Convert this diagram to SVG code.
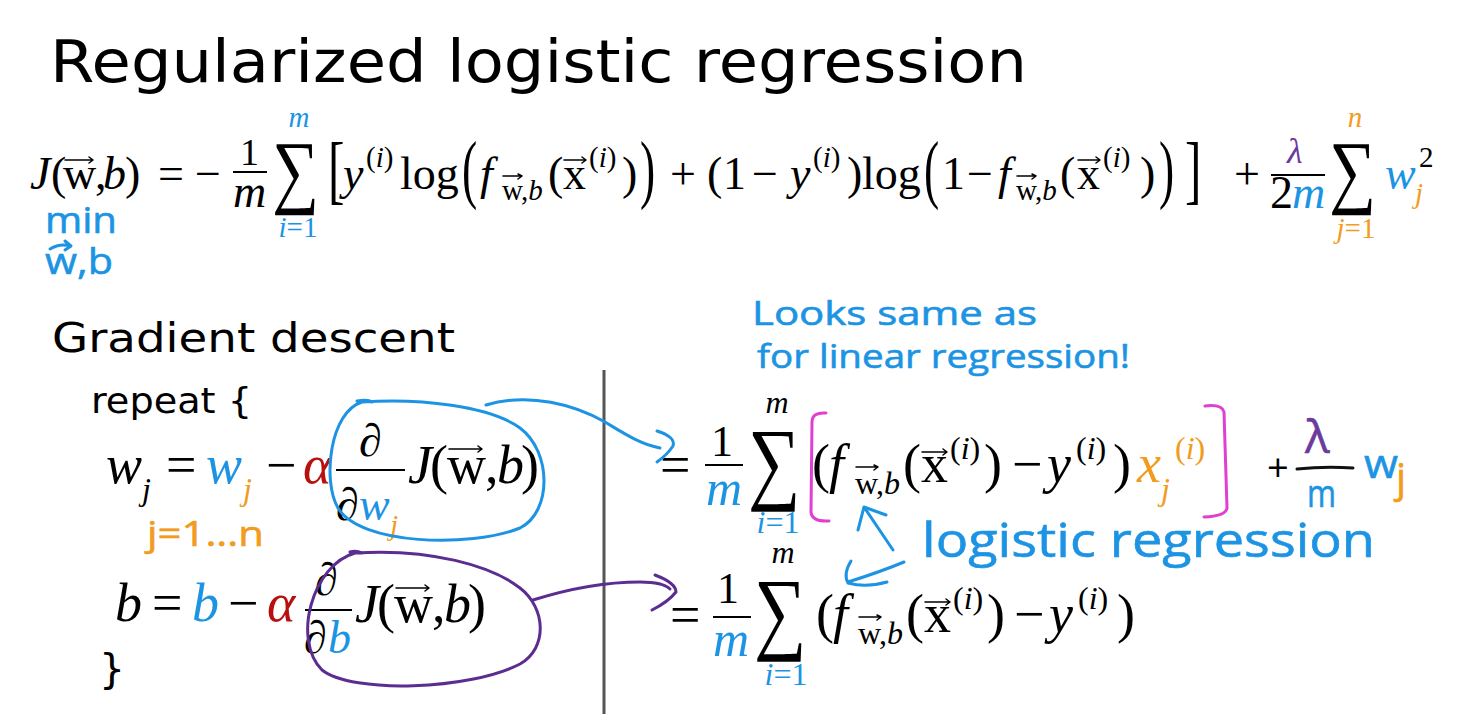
<svg xmlns="http://www.w3.org/2000/svg" width="1478" height="714" viewBox="0 0 1478 714">
<style>
text{fill:#000}
.s{font-family:"DejaVu Sans","Liberation Sans",sans-serif}
.m{font-family:"Liberation Serif","DejaVu Serif",serif;font-size:46px}
.M{font-family:"Liberation Serif","DejaVu Serif",serif;font-size:54px}
.i{font-style:italic}
.sm{font-size:29px}
.sM{font-size:32px}
.bl{fill:#1c94e3}
.or{fill:#f29b1d}
.pu{fill:#6a3a9c}
.rd{fill:#b80f0f}
.hw{font-family:"Open Sans","Lato",sans-serif;font-weight:normal;stroke-width:0.6;paint-order:stroke}
.hw.bl{stroke:#1c94e3}
.hw.or{stroke:#f29b1d}
.hw.pu{stroke:#6a3a9c}
.vec{fill:none;stroke:#000;stroke-width:1.5;stroke-linecap:round;stroke-linejoin:round}
.bar{stroke:#000;stroke-width:2.2}
.ink{fill:none;stroke-width:3;stroke-linecap:round;stroke-linejoin:round}
.ib{stroke:#1c94e3}
.ip{stroke:#5c2d91}
.im{stroke:#e03fd2}
.ik{stroke:#111}
</style>
<rect width="1478" height="714" fill="#fff"/>

<g id="title">
<text class="s" x="50" y="82" style="font-size:58px" textLength="977" lengthAdjust="spacingAndGlyphs">Regularized logistic regression</text>
</g>

<g id="cost-function">
<text class="m i" x="30" y="189">J</text>
<text class="m" x="51" y="189">(</text>
<text class="m" x="63" y="189">w</text>
<path class="vec" d="M65 160h28M89 157l4 3l-4 3"/>
<text class="m" x="95" y="189">,</text>
<text class="m i" x="103" y="189">b</text>
<text class="m" x="125" y="189">)</text>
<text class="m" x="158" y="189">=</text>
<text class="m" x="195" y="189">−</text>
<text class="m" x="240" y="165" style="font-size:38px">1</text>
<path class="bar" d="M233 172H267"/>
<text class="m i" x="233" y="207">m</text>
<text class="m" transform="translate(272,198) scale(0.8,1)" style="font-size:82px">∑</text>
<text class="m i bl sm" x="299" y="127" text-anchor="middle">m</text>
<text class="m bl sm" x="298" y="237" text-anchor="middle"><tspan class="i">i</tspan>=1</text>
<text class="m" transform="translate(328,195) scale(0.65,1)" style="font-size:76px">[</text>
<text class="m i" x="343" y="189">y</text>
<text class="m sm" x="366" y="167">(<tspan class="i">i</tspan>)</text>
<text class="m" x="400" y="189">log</text>
<text class="m" transform="translate(462,194) scale(0.6,1)" style="font-size:76px">(</text>
<text class="m i" x="480" y="189">f</text>
<text class="m sm" x="502" y="200">w,<tspan class="i">b</tspan></text>
<path class="vec" d="M503 176h19M518 174l4 2l-4 3"/>
<text class="m" x="548" y="189">(</text>
<text class="m" x="563" y="189">x</text>
<path class="vec" d="M564 160h22M582 157l4 3l-4 3"/>
<text class="m sm" x="589" y="167">(<tspan class="i">i</tspan>)</text>
<text class="m" x="622" y="189">)</text>
<text class="m" transform="translate(640,194) scale(0.6,1)" style="font-size:76px">)</text>
<text class="m" x="670" y="189">+</text>
<text class="m" x="707" y="189">(</text>
<text class="m" x="723" y="189">1</text>
<text class="m" x="752" y="189">−</text>
<text class="m i" x="790" y="189">y</text>
<text class="m sm" x="813" y="167">(<tspan class="i">i</tspan>)</text>
<text class="m" x="847" y="189">)</text>
<text class="m" x="862" y="189">log</text>
<text class="m" transform="translate(924,194) scale(0.6,1)" style="font-size:76px">(</text>
<text class="m" x="942" y="189">1</text>
<text class="m" x="967" y="189">−</text>
<text class="m i" x="998" y="189">f</text>
<text class="m sm" x="1016" y="200">w,<tspan class="i">b</tspan></text>
<path class="vec" d="M1017 176h19M1032 174l4 2l-4 3"/>
<text class="m" x="1060" y="189">(</text>
<text class="m" x="1077" y="189">x</text>
<path class="vec" d="M1078 160h22M1096 157l4 3l-4 3"/>
<text class="m sm" x="1103" y="167">(<tspan class="i">i</tspan>)</text>
<text class="m" x="1140" y="189">)</text>
<text class="m" transform="translate(1159,194) scale(0.6,1)" style="font-size:76px">)</text>
<text class="m" transform="translate(1185,195) scale(0.65,1)" style="font-size:76px">]</text>
<text class="m" x="1234" y="189">+</text>
<text class="m i pu" x="1287" y="163" style="font-size:36px">λ</text>
<path class="bar" d="M1271 175H1325"/>
<text class="m" x="1270" y="208">2</text>
<text class="m i bl" x="1292" y="208">m</text>
<text class="m" transform="translate(1329,198) scale(0.8,1)" style="font-size:82px">∑</text>
<text class="m i or sm" x="1355" y="127" text-anchor="middle">n</text>
<text class="m or sm" x="1356" y="238" text-anchor="middle"><tspan class="i">j</tspan>=1</text>
<text class="m i bl" x="1385" y="189">w</text>
<text class="m sm" x="1419" y="167">2</text>
<text class="m i or sm" x="1415" y="203">j</text>
<text class="hw bl" x="45" y="233" style="font-size:36px" textLength="72" lengthAdjust="spacingAndGlyphs">min</text>
<text class="hw bl" x="45" y="274" style="font-size:36px" textLength="68" lengthAdjust="spacingAndGlyphs">w,b</text>
<path class="ink ib" d="M50 249Q60 243 70 246M65 241l6 5l-6 4"/>
</g>

<g id="gradient-descent">
<text class="s" x="52" y="352" style="font-size:41px" textLength="403" lengthAdjust="spacingAndGlyphs">Gradient descent</text>
<text class="s" x="91" y="413" style="font-size:36px" textLength="161" lengthAdjust="spacingAndGlyphs">repeat {</text>
<text class="s" x="99" y="683" style="font-size:41px">}</text>
</g>

<g id="update-w">
<text class="M i" x="106" y="483">w</text>
<text class="M i sM" x="142" y="500">j</text>
<text class="M" x="166" y="483">=</text>
<text class="M i bl" x="206" y="483">w</text>
<text class="M i or sM" x="243" y="500">j</text>
<text class="M" x="266" y="483">−</text>
<text class="M i rd" x="303" y="483">α</text>
<text class="M" x="359" y="456" style="font-size:46px">∂</text>
<path class="bar" d="M336 470H405"/>
<text class="M" x="336" y="520" style="font-size:46px">∂</text>
<text class="M i bl" x="359" y="520" style="font-size:46px">w</text>
<text class="M i or" x="390" y="535" style="font-size:29px">j</text>
<text class="M i" x="408" y="483">J</text>
<text class="M" x="430" y="483">(</text>
<text class="M" x="447" y="483">w</text>
<path class="vec" d="M449 449h33M478 446l4 3l-4 3"/>
<text class="M" x="485" y="483">,</text>
<text class="M i" x="497" y="483">b</text>
<text class="M" x="521" y="483">)</text>
<text class="hw or" x="147" y="546" style="font-size:34px" textLength="117" lengthAdjust="spacingAndGlyphs">j=1...n</text>
</g>

<g id="update-b">
<text class="M i" x="115" y="621">b</text>
<text class="M" x="152" y="621">=</text>
<text class="M i bl" x="192" y="621">b</text>
<text class="M" x="228" y="621">−</text>
<text class="M i rd" x="267" y="621">α</text>
<text class="M" x="315" y="595" style="font-size:46px">∂</text>
<path class="bar" d="M305 610H352"/>
<text class="M" x="304" y="653" style="font-size:46px">∂</text>
<text class="M i bl" x="328" y="653" style="font-size:46px">b</text>
<text class="M i" x="355" y="622">J</text>
<text class="M" x="377" y="622">(</text>
<text class="M" x="394" y="622">w</text>
<path class="vec" d="M396 588h33M425 585l4 3l-4 3"/>
<text class="M" x="432" y="622">,</text>
<text class="M i" x="444" y="622">b</text>
<text class="M" x="468" y="622">)</text>
</g>

<g id="divider">
<path d="M604 370V714" stroke="#555" stroke-width="3"/>
</g>

<g id="note-linear">
<text class="hw bl" x="752" y="325" style="font-size:33px" textLength="285" lengthAdjust="spacingAndGlyphs">Looks same as</text>
<text class="hw bl" x="757" y="368" style="font-size:33px" textLength="373" lengthAdjust="spacingAndGlyphs">for linear regression!</text>
</g>

<g id="deriv-w">
<text class="M" x="660" y="483">=</text>
<text class="M" x="711" y="456" style="font-size:44px">1</text>
<path class="bar" d="M705 465H743"/>
<text class="M i bl" x="706" y="505" style="font-size:50px">m</text>
<text class="M" transform="translate(748,492) scale(0.8,1)" style="font-size:92px">∑</text>
<text class="M i sM" x="777" y="413" text-anchor="middle">m</text>
<text class="M bl sM" x="778" y="533" text-anchor="middle"><tspan class="i">i</tspan>=1</text>
<text class="M" x="812" y="482">(</text>
<text class="M i" x="829" y="482">f</text>
<text class="M sM" x="855" y="494">w,<tspan class="i">b</tspan></text>
<path class="vec" d="M856 467h22M874 465l4 2l-4 3"/>
<text class="M" x="903" y="482">(</text>
<text class="M" x="921" y="482">x</text>
<path class="vec" d="M922 452h25M943 449l4 3l-4 3"/>
<text class="M sM" x="950" y="459">(<tspan class="i">i</tspan>)</text>
<text class="M" x="984" y="482">)</text>
<text class="M" x="1012" y="482">−</text>
<text class="M i" x="1047" y="482">y</text>
<text class="M sM" x="1076" y="459">(<tspan class="i">i</tspan>)</text>
<text class="M" x="1113" y="482">)</text>
<text class="M i or" x="1137" y="482">x</text>
<text class="M i or sM" x="1161" y="500">j</text>
<text class="M or sM" x="1175" y="459">(<tspan class="i">i</tspan>)</text>
<path class="ink im" d="M826 413Q812 412 812 422L811 512Q812 522 829 521"/>
<path class="ink im" d="M1205 406Q1222 404 1224 412L1227 508Q1226 516 1204 517"/>
<text class="hw" x="1267" y="481" style="font-size:38px">+</text>
<text class="hw pu" x="1305" y="453" style="font-size:46px">λ</text>
<path class="ink ik" d="M1297 469Q1325 466 1353 468"/>
<text class="hw bl" x="1307" y="507" style="font-size:38px" textLength="29" lengthAdjust="spacingAndGlyphs">m</text>
<text class="hw bl" x="1364" y="478" style="font-size:40px" textLength="34" lengthAdjust="spacingAndGlyphs">w</text>
<text class="hw or" x="1396" y="492" style="font-size:40px">j</text>
</g>

<g id="deriv-b">
<text class="M" x="670" y="633">=</text>
<text class="M" x="717" y="603" style="font-size:44px">1</text>
<path class="bar" d="M713 617H751"/>
<text class="M i bl" x="713" y="656" style="font-size:50px">m</text>
<text class="M" transform="translate(754,642) scale(0.8,1)" style="font-size:92px">∑</text>
<text class="M i sM" x="783" y="563" text-anchor="middle">m</text>
<text class="M bl sM" x="786" y="685" text-anchor="middle"><tspan class="i">i</tspan>=1</text>
<text class="M" x="816" y="632">(</text>
<text class="M i" x="833" y="632">f</text>
<text class="M sM" x="858" y="644">w,<tspan class="i">b</tspan></text>
<path class="vec" d="M859 617h22M877 615l4 2l-4 3"/>
<text class="M" x="906" y="632">(</text>
<text class="M" x="924" y="632">x</text>
<path class="vec" d="M925 602h25M946 599l4 3l-4 3"/>
<text class="M sM" x="953" y="609">(<tspan class="i">i</tspan>)</text>
<text class="M" x="987" y="632">)</text>
<text class="M" x="1014" y="632">−</text>
<text class="M i" x="1049" y="632">y</text>
<text class="M sM" x="1078" y="609">(<tspan class="i">i</tspan>)</text>
<text class="M" x="1117" y="632">)</text>
</g>

<g id="note-logistic">
<text class="hw bl" x="922" y="557" style="font-size:47px" textLength="453" lengthAdjust="spacingAndGlyphs">logistic regression</text>
</g>

<g id="connectors">
<path class="ink ib" d="M357 401Q368 399 372 402M362 402C330 412 322 480 338 508C360 545 470 548 520 528C552 512 552 452 520 428C490 406 420 398 362 402"/>
<path class="ink ib" d="M486 405C530 392 575 405 605 422C625 434 640 444 660 448"/>
<path class="ink ib" d="M657 431Q676 437 673 446Q667 455 657 462"/>
<path class="ink ip" d="M350 552Q356 550 362 553M355 553C312 565 292 640 322 670C352 694 470 690 520 664C548 648 546 608 520 588C492 566 430 548 355 553"/>
<path class="ink ip" d="M533 600C565 590 600 582 640 582C655 582 666 585 670 589"/>
<path class="ink ip" d="M655 575Q676 583 676 592Q668 602 652 610"/>
<path class="ink ib" d="M893 550L864 507M858 530L864 507L886 515"/>
<path class="ink ib" d="M904 562Q880 572 848 582M851 561Q843 574 848 583Q866 588 887 582"/>
</g>
</svg>
